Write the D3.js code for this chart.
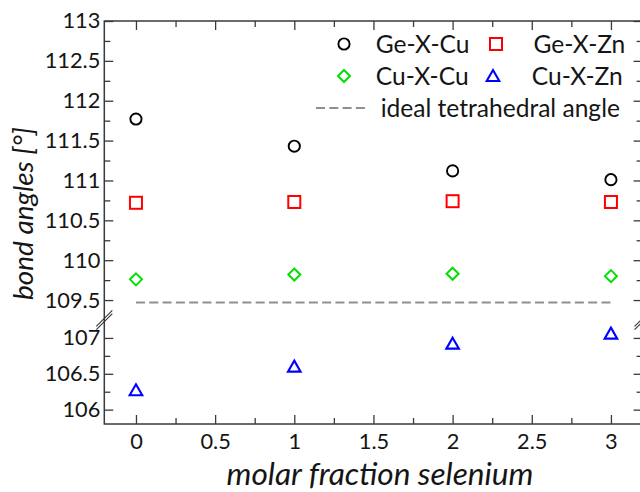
<!DOCTYPE html>
<html>
<head>
<meta charset="utf-8">
<script src="https://cdn.jsdelivr.net/npm/d3@7"></script>
<style>
  html, body { margin: 0; padding: 0; background: #fff; }
  svg { display: block; font-family: Lato, "Open Sans", sans-serif; }
</style>
</head>
<body>
<svg id="chart" width="640" height="492"></svg>
<script>
// ---- data ----
const xValues = [0, 1, 2, 3];
const geXCu = [111.77, 111.43, 111.12, 111.01];
const geXZn = [110.72, 110.73, 110.74, 110.73];
const cuXCu = [109.76, 109.82, 109.83, 109.80];
const cuXZn = [106.27, 106.60, 106.92, 107.06];
const idealAngle = 109.47;

const xMajorTicks = [0, 0.5, 1, 1.5, 2, 2.5, 3];
const xMinorTicks = [0.25, 0.75, 1.25, 1.75, 2.25, 2.75];
const yUpperMajor = [109.5, 110, 110.5, 111, 111.5, 112, 112.5, 113];
const yUpperMinor = [109.75, 110.25, 110.75, 111.25, 111.75, 112.25, 112.75];
const yLowerMajor = [106, 106.5, 107];
const yLowerMinor = [106.25, 106.75];

const seriesNames = ["Ge-X-Cu", "Ge-X-Zn", "Cu-X-Cu", "Cu-X-Zn"];
const idealLabel = "ideal tetrahedral angle";
const xTitle = "molar fraction selenium";
const yTitle = "bond angles [°]";

// ---- layout ----
const pLeft = 104.3, pRight = 642.6, pTop = 21, pBottom = 424, pBreak = 320;
const svg = d3.select("#chart");

const x = d3.scaleLinear().domain([-0.2, 3.2]).range([pLeft, pRight]);
const yU = d3.scaleLinear().domain([109.25, 113]).range([pBreak, pTop]);
const yL = d3.scaleLinear().domain([105.8, 107.25]).range([pBottom, pBreak]);
const yPos = v => (v >= 108 ? yU(v) : yL(v));

const axisColor = "#3a3a3a";
const textColor = "#151515";
const fmt = d3.format("");

// font size that makes `str` exactly `target` px wide
function fitSize(str, target, style) {
  const t = svg.append("text").style("font-size", "20px").style("font-style", style || "normal").text(str);
  const w = t.node().getComputedTextLength();
  t.remove();
  return 20 * target / w;
}
const tickSize = fitSize("112.5", 55.7);
const legendSize = fitSize(idealLabel, 239.3);
const xTitleSize = fitSize(xTitle, 307, "italic");
const yTitleSize = fitSize(yTitle, 173, "italic");

function styleAxis(g) {
  g.select(".domain").remove();
  g.selectAll(".tick line").attr("stroke", axisColor).attr("stroke-width", 1.3);
  g.selectAll(".tick text").attr("fill", textColor).style("font-size", tickSize + "px")
    .style("font-family", "Lato, 'Open Sans', sans-serif");
}

// bottom axis
svg.append("g").attr("transform", `translate(0,${pBottom})`)
  .call(d3.axisBottom(x).tickValues(xMajorTicks).tickSize(-9).tickPadding(10).tickFormat(fmt))
  .call(styleAxis);
svg.append("g").attr("transform", `translate(0,${pBottom})`)
  .call(d3.axisBottom(x).tickValues(xMinorTicks).tickSize(-6).tickFormat(""))
  .call(styleAxis);
// top axis
svg.append("g").attr("transform", `translate(0,${pTop})`)
  .call(d3.axisTop(x).tickValues(xMajorTicks).tickSize(-9).tickFormat(""))
  .call(styleAxis);
svg.append("g").attr("transform", `translate(0,${pTop})`)
  .call(d3.axisTop(x).tickValues(xMinorTicks).tickSize(-6).tickFormat(""))
  .call(styleAxis);
// left / right axes
[[yU, yUpperMajor, yUpperMinor], [yL, yLowerMajor, yLowerMinor]].forEach(([sc, maj, mnr]) => {
  svg.append("g").attr("transform", `translate(${pLeft},0)`)
    .call(d3.axisLeft(sc).tickValues(maj).tickSize(-9).tickPadding(4).tickFormat(fmt))
    .call(styleAxis);
  svg.append("g").attr("transform", `translate(${pLeft},0)`)
    .call(d3.axisLeft(sc).tickValues(mnr).tickSize(-6).tickFormat(""))
    .call(styleAxis);
  svg.append("g").attr("transform", `translate(${pRight},0)`)
    .call(d3.axisRight(sc).tickValues(maj).tickSize(-9).tickFormat(""))
    .call(styleAxis);
  svg.append("g").attr("transform", `translate(${pRight},0)`)
    .call(d3.axisRight(sc).tickValues(mnr).tickSize(-6).tickFormat(""))
    .call(styleAxis);
});

// frame
svg.append("rect").attr("x", pLeft).attr("y", pTop).attr("width", pRight - pLeft).attr("height", pBottom - pTop)
  .attr("fill", "none").attr("stroke", axisColor).attr("stroke-width", 1.5);

// axis break marks
[pLeft, pRight].forEach(cx => {
  [-1.6, 1.6].forEach(off => {
    svg.append("line")
      .attr("x1", cx - 8).attr("y1", pBreak + 8 + off)
      .attr("x2", cx + 8).attr("y2", pBreak - 8 + off)
      .attr("stroke", "#333").attr("stroke-width", 1.1);
  });
});

// ideal tetrahedral line
svg.append("line")
  .attr("x1", x(xValues[0])).attr("x2", x(xValues[xValues.length - 1]))
  .attr("y1", yPos(idealAngle)).attr("y2", yPos(idealAngle))
  .attr("stroke", "#8f8f8f").attr("stroke-width", 2).attr("stroke-dasharray", "9,4.3");

function drawMarker(g, type, cx, cy, color) {
  if (type === "circle") {
    g.append("circle").attr("cx", cx).attr("cy", cy).attr("r", 5.6)
      .attr("fill", "none").attr("stroke", color).attr("stroke-width", 1.9);
  } else if (type === "square") {
    g.append("rect").attr("x", cx - 6).attr("y", cy - 6).attr("width", 12).attr("height", 12)
      .attr("fill", "none").attr("stroke", color).attr("stroke-width", 2);
  } else if (type === "diamond") {
    g.append("path").attr("d", `M${cx},${cy - 6}L${cx + 6},${cy}L${cx},${cy + 6}L${cx - 6},${cy}Z`)
      .attr("fill", "none").attr("stroke", color).attr("stroke-width", 2);
  } else if (type === "triangle") {
    g.append("path").attr("d", `M${cx},${cy - 6}L${cx + 6.3},${cy + 5}L${cx - 6.3},${cy + 5}Z`)
      .attr("fill", "none").attr("stroke", color).attr("stroke-width", 2.1);
  }
}

const series = [
  { name: seriesNames[0], values: geXCu, type: "circle", color: "#000000" },
  { name: seriesNames[1], values: geXZn, type: "square", color: "#ff0000" },
  { name: seriesNames[2], values: cuXCu, type: "diamond", color: "#00e000" },
  { name: seriesNames[3], values: cuXZn, type: "triangle", color: "#0000ff" }
];

const marks = svg.append("g");
series.forEach(s => {
  s.values.forEach((v, i) => drawMarker(marks, s.type, x(xValues[i]), yPos(v), s.color));
});

// legend
const leg = svg.append("g").style("font-size", legendSize + "px").attr("fill", textColor);
const legPos = [
  { mx: 344, tx: 375.8, y: 44 },
  { mx: 496, tx: 533.5, y: 44 },
  { mx: 344, tx: 375.8, y: 76 },
  { mx: 493, tx: 531.8, y: 76 }
];
series.forEach((s, i) => {
  const p = legPos[i];
  drawMarker(leg, s.type, p.mx, p.y, s.color);
  leg.append("text").attr("x", p.tx).attr("y", p.y).attr("dy", "0.35em").text(s.name);
});
leg.append("line").attr("x1", 316).attr("x2", 367).attr("y1", 108).attr("y2", 108)
  .attr("stroke", "#8f8f8f").attr("stroke-width", 2).attr("stroke-dasharray", "9,4.3");
leg.append("text").attr("x", 380.7).attr("y", 108).attr("dy", "0.35em").text(idealLabel);

// axis titles
svg.append("text").attr("x", 380).attr("y", 485).attr("text-anchor", "middle")
  .style("font-size", xTitleSize + "px").style("font-style", "italic").attr("fill", textColor).text(xTitle);
svg.append("text").attr("transform", "translate(33,213.5) rotate(-90)").attr("text-anchor", "middle")
  .style("font-size", yTitleSize + "px").style("font-style", "italic").attr("fill", textColor).text(yTitle);
</script>
</body>
</html>
